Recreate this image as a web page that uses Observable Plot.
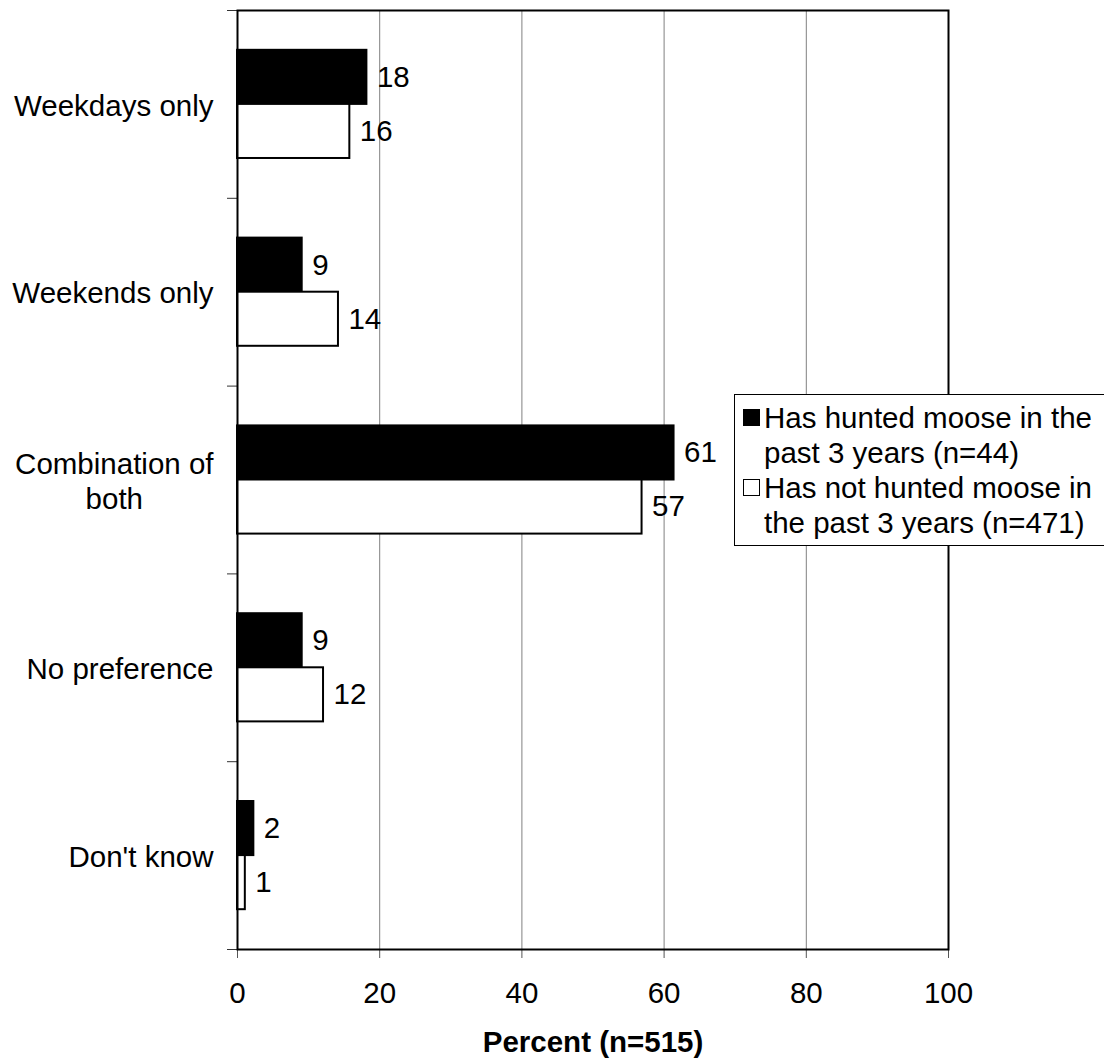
<!DOCTYPE html>
<html>
<head>
<meta charset="utf-8">
<script src="https://cdn.jsdelivr.net/npm/d3@7"></script>
<script src="https://cdn.jsdelivr.net/npm/@observablehq/plot@0.6"></script>
<style>
  html, body { margin: 0; padding: 0; background: #fff; overflow: hidden; }
  #wrap { position: relative; width: 1104px; height: 1059px; overflow: hidden; }
  #legend {
    position: absolute; left: 734px; top: 394px; width: 420px; height: 152px;
    border: 1px solid #000; background: #fff;
    font-family: "Liberation Sans", Arial, sans-serif; font-size: 29.5px; line-height: 35px; color: #000;
    padding: 5px 0 0 8px; box-sizing: border-box;
  }
  .item { display: flex; align-items: flex-start; }
  .sw { width: 15px; height: 15px; border: 1px solid #000; margin: 9px 4px 0 0; flex: none; }
</style>
</head>
<body>
<div id="wrap"></div>
<script>
// ---- data ----
const categories = ["Weekdays only", "Weekends only", "Combination of\nboth", "No preference", "Don't know"];
const seriesNames = ["Has hunted moose in the\npast 3 years (n=44)", "Has not hunted moose in\nthe past 3 years (n=471)"];
const hunted = [18.2, 9.1, 61.4, 9.1, 2.3];
const notHunted = [15.8, 14.2, 56.9, 12.1, 1.1];
const xTicks = [0, 20, 40, 60, 80, 100];
const xLabel = "Percent (n=515)";
const seriesColors = ["#000000", "#ffffff"];

// ---- build table ----
const BAR = 0.288; // fraction of a category band per bar
const rows = [];
categories.forEach((c, i) => {
  rows.push({cat: c, s: seriesNames[0], value: hunted[i], y1: i + 0.5 - BAR, y2: i + 0.5});
  rows.push({cat: c, s: seriesNames[1], value: notHunted[i], y1: i + 0.5, y2: i + 0.5 + BAR});
});

const FONT = '"Liberation Sans", Arial, sans-serif';
const FS = 29.5;
const ctx = document.createElement("canvas").getContext("2d");
ctx.font = `${FS}px "Liberation Sans"`;
const labelMarks = categories.map((c, i) => {
  const w = d3.max(c.split("\n"), l => ctx.measureText(l).width);
  return Plot.text([i], {
    y: d => d + 0.5, text: () => c, frameAnchor: "left",
    textAnchor: "middle", lineAnchor: "middle", lineHeight: 35 / FS,
    dx: -(24 + w / 2), fill: "#000"
  });
});

const chart = Plot.plot({
  width: 1104, height: 1059,
  marginLeft: 237, marginRight: 156, marginTop: 10, marginBottom: 110,
  style: {fontFamily: FONT, fontSize: FS + "px", background: "#fff", color: "#000"},
  x: {domain: [0, 100], label: null},
  y: {domain: [0, categories.length], reverse: true, label: null},
  color: {domain: seriesNames, range: seriesColors},
  marks: [
    Plot.ruleX(xTicks.slice(1, -1), {stroke: "#808080", strokeWidth: 1}),
    Plot.axisX({ticks: xTicks, tickSize: 9, tickPadding: 24, stroke: "#555", fill: "#000", label: null}),
    Plot.axisY({ticks: d3.range(categories.length + 1), tickSize: 10, tickFormat: () => "", stroke: "#333", label: null}),
    Plot.rect(rows, {x1: 0, x2: "value", y1: "y1", y2: "y2", fill: "s", stroke: "#000", strokeWidth: 2}),
    Plot.frame({stroke: "#000", strokeWidth: 2}),
    Plot.text(rows, {
      x: "value", y: d => (d.y1 + d.y2) / 2, text: d => String(Math.round(d.value)),
      textAnchor: "start", lineAnchor: "middle", dx: 10, fill: "#000"
    }),
    ...labelMarks,
    Plot.text([xLabel], {frameAnchor: "bottom", lineAnchor: "middle", dy: 93, fontWeight: "bold", fill: "#000"})
  ]
});

const wrap = document.getElementById("wrap");
wrap.appendChild(chart);

// legend
const legend = document.createElement("div");
legend.id = "legend";
seriesNames.forEach((name, i) => {
  const item = document.createElement("div");
  item.className = "item";
  const sw = document.createElement("div");
  sw.className = "sw";
  sw.style.background = seriesColors[i];
  const t = document.createElement("div");
  t.style.whiteSpace = "pre";
  t.textContent = name;
  item.appendChild(sw);
  item.appendChild(t);
  legend.appendChild(item);
});
wrap.appendChild(legend);
</script>
</body>
</html>
